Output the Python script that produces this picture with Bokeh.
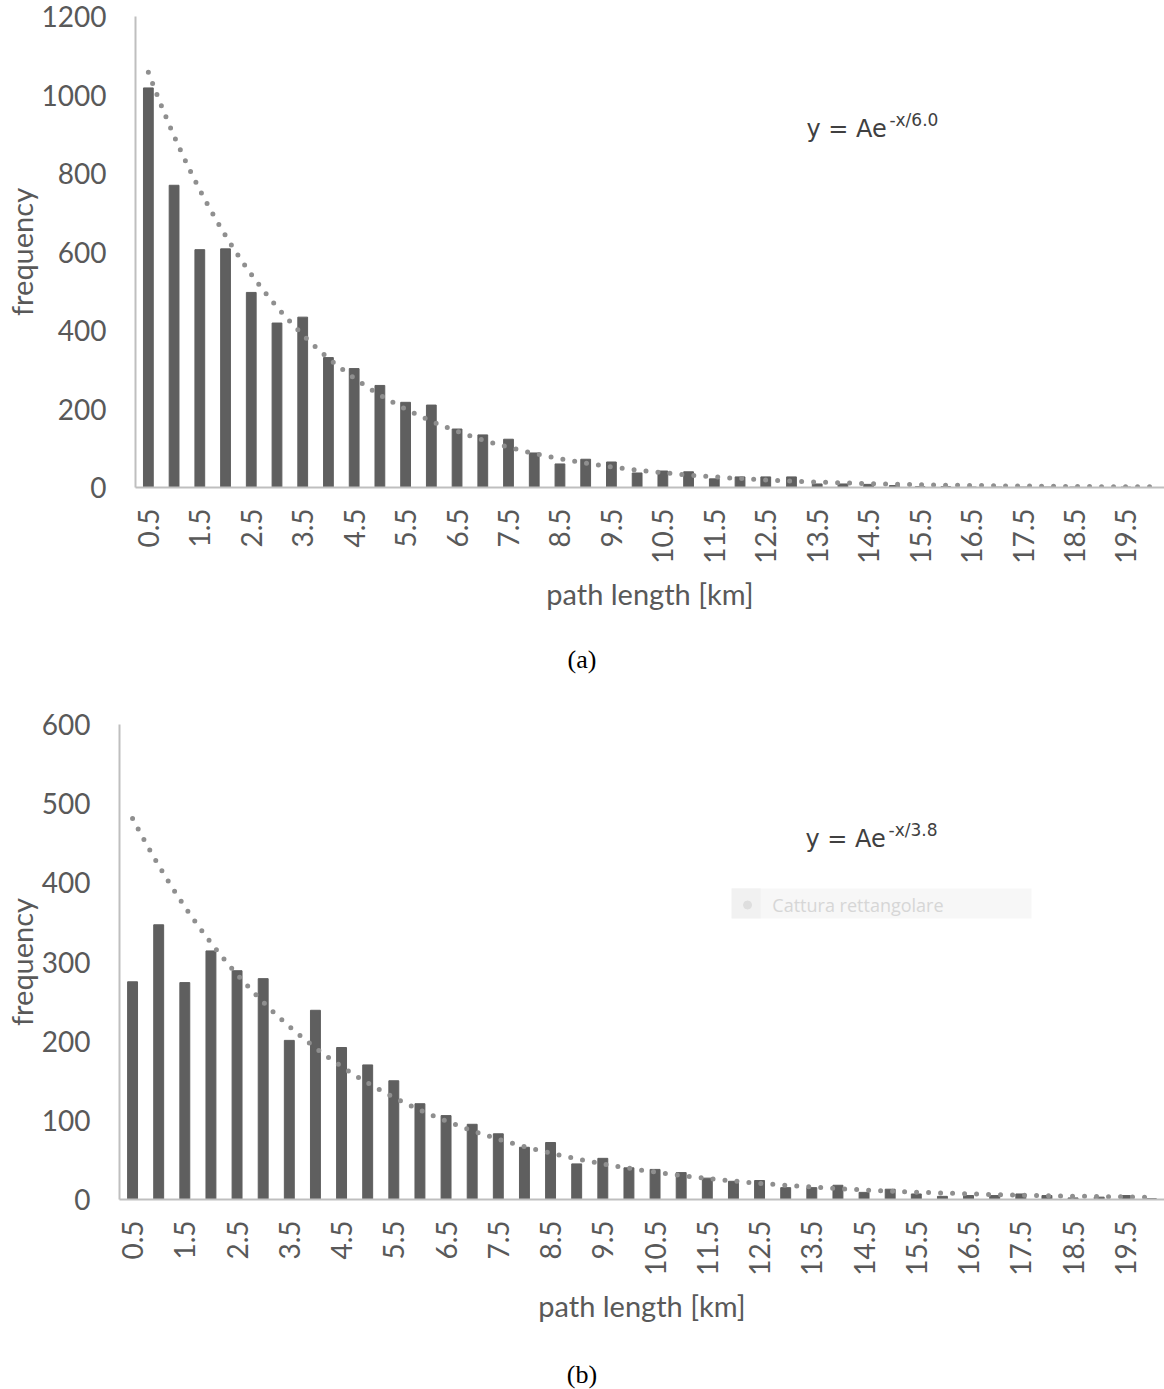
import math
from bokeh.plotting import figure
from bokeh.models import Range1d, FixedTicker, Label, Div, BoxAnnotation
from bokeh.embed import file_html
from bokeh.resources import INLINE

# ---------------- data ----------------
path_km = ["0.5", "1.0", "1.5", "2.0", "2.5", "3.0", "3.5", "4.0", "4.5", "5.0",
           "5.5", "6.0", "6.5", "7.0", "7.5", "8.0", "8.5", "9.0", "9.5", "10.0",
           "10.5", "11.0", "11.5", "12.0", "12.5", "13.0", "13.5", "14.0", "14.5", "15.0",
           "15.5", "16.0", "16.5", "17.0", "17.5", "18.0", "18.5", "19.0", "19.5", "20.0"]

freq_a = [1018, 770, 606, 608, 497, 419, 434, 331, 303, 260,
          217, 210, 149, 134, 123, 88, 60, 72, 65, 37,
          42, 40, 22, 27, 27, 27, 9, 9, 8, 5,
          2, 2, 1, 1, 1, 1, 1, 0, 1, 0]

freq_b = [275, 347, 274, 314, 289, 279, 201, 239, 192, 170,
          150, 121, 106, 95, 83, 66, 72, 45, 52, 40,
          38, 34, 27, 23, 24, 15, 15, 18, 9, 13,
          7, 4, 5, 5, 7, 5, 2, 3, 5, 1]

# exponential trend lines (amplitude, decay in bins)
trend_a = (1250.0, 6.0)
trend_b = (549.0, 7.6)

eq_a = ("y = Ae", "-x/6.0")
eq_b = ("y = Ae", "-x/3.8")

yticks_a = [0, 200, 400, 600, 800, 1000, 1200]
yticks_b = [0, 100, 200, 300, 400, 500, 600]

# ---------------- styling ----------------
W = 1164
FONT = "Lato"
EQFONT = "DejaVu Sans"
BAR = "#5f5f5f"
DOT = "#8f8f8f"
TXT = "#595959"
AXL = "#bfbfbf"

idx = list(range(1, len(path_km) + 1))
odd = [i for i in idx if i % 2 == 1]
overrides = {i: path_km[i - 1] for i in odd}


def panel(freq, yticks, frame_left, frame_top, frame_h, trend, eq, eq_pos):
    ymax = yticks[-1]
    fw = W - frame_left
    p = figure(frame_width=fw, frame_height=frame_h,
               x_range=Range1d(0.5, len(idx) + 0.5), y_range=Range1d(0, ymax),
               output_backend="svg", toolbar_location=None,
               min_border_left=frame_left, min_border_right=0,
               min_border_top=frame_top, min_border_bottom=0)
    p.outline_line_color = None
    p.xgrid.visible = False
    p.ygrid.visible = False
    p.background_fill_color = "white"
    p.border_fill_color = "white"

    p.vbar(x=idx, top=freq, width=0.38, color=BAR)

    amp, tau = trend
    n = 400
    xs = [1 + (len(idx) - 1) * k / (n - 1) for k in range(n)]
    ys = [amp * math.exp(-x / tau) for x in xs]
    p.line(xs, ys, line_color=DOT, line_width=5, line_dash="0 12", line_cap="round")

    # axes
    xa = p.xaxis[0]
    xa.ticker = FixedTicker(ticks=odd)
    xa.major_label_overrides = overrides
    xa.major_label_orientation = math.pi / 2
    xa.major_tick_line_color = None
    xa.minor_tick_line_color = None
    xa.major_tick_out = 0
    xa.major_tick_in = 0
    xa.axis_line_color = AXL
    xa.axis_line_width = 2
    xa.major_label_text_font = FONT
    xa.major_label_text_font_size = "28px"
    xa.major_label_text_color = TXT
    xa.major_label_standoff = 21
    xa.axis_label = "path length [km]"
    xa.axis_label_text_font = FONT
    xa.axis_label_text_font_size = "29px"
    xa.axis_label_text_font_style = "normal"
    xa.axis_label_text_color = TXT
    xa.axis_label_standoff = 9

    ya = p.yaxis[0]
    ya.ticker = FixedTicker(ticks=yticks)
    ya.major_tick_line_color = None
    ya.minor_tick_line_color = None
    ya.major_tick_out = 0
    ya.major_tick_in = 0
    ya.axis_line_color = AXL
    ya.axis_line_width = 2
    ya.major_label_text_font = FONT
    ya.major_label_text_font_size = "28px"
    ya.major_label_text_color = TXT
    ya.major_label_standoff = 29
    ya.axis_label = "frequency"
    ya.axis_label_text_font = FONT
    ya.axis_label_text_font_size = "29px"
    ya.axis_label_text_font_style = "normal"
    ya.axis_label_text_color = TXT
    ya.axis_label_standoff = 0

    # equation
    ex, ey = eq_pos
    px_per_unit = frame_h / ymax
    p.add_layout(Label(x=ex, y=ey, text=eq[0], text_font=EQFONT, text_font_size="24px",
                       text_color="#404040", text_baseline="alphabetic"))
    p.add_layout(Label(x=ex, y=ey + 9 / px_per_unit, x_offset=83, text=eq[1], text_font=EQFONT,
                       text_font_size="17px", text_color="#404040", text_baseline="alphabetic"))
    return p


pa = panel(freq_a, yticks_a, 135, 16, 471, trend_a, eq_a, (26.58, 913))
pb = panel(freq_b, yticks_b, 119, 17, 475, trend_b, eq_b, (26.76, 455))

# faint screen-capture tooltip visible in the original image (b)
pb.add_layout(BoxAnnotation(left=23.93, right=35.41, bottom=355, top=393,
                            fill_color="#f7f7f7", fill_alpha=1.0, line_color=None, level="underlay"))
pb.add_layout(BoxAnnotation(left=23.93, right=25.04, bottom=355, top=393,
                            fill_color="#f1f1f1", fill_alpha=1.0, line_color=None, level="underlay"))
pb.scatter([24.54], [372], size=8, color="#dedede")
pb.add_layout(Label(x=25.49, y=372, text="Cattura rettangolare", text_font="Open Sans",
                    text_font_size="18px", text_color="#d6d6d6", text_baseline="middle"))

cap_style = ("text-align:center;font-family:'Liberation Serif';font-size:26px;color:#000;"
             f"width:{W}px;box-sizing:border-box;")
div_a = Div(text=f'<div style="{cap_style}line-height:94px;height:94px;">(a)</div>',
            width=W, height=94, margin=(0, 0, 0, 0))
div_b = Div(text=f'<div style="{cap_style}line-height:30px;height:60px;padding-top:35px;">(b)</div>',
            width=W, height=60, margin=(0, 0, 0, 0))

open("out.html", "w").write(file_html([pa, div_a, pb, div_b], INLINE))
